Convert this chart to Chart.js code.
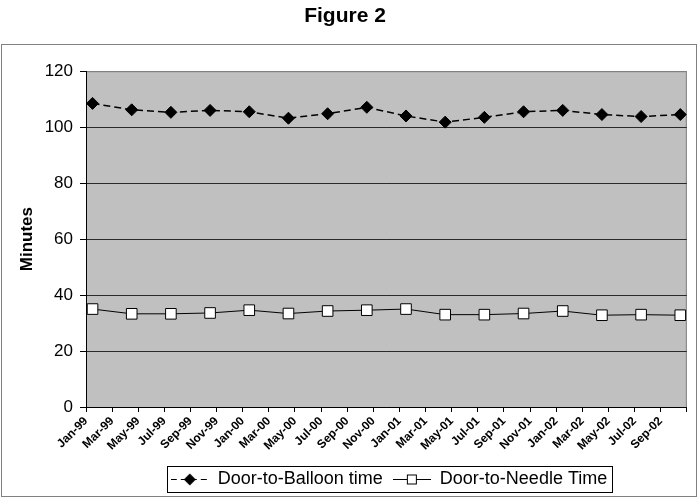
<!DOCTYPE html>
<html>
<head>
<meta charset="utf-8">
<script src="https://cdn.jsdelivr.net/npm/chart.js@4/dist/chart.umd.min.js"></script>
<style>
  html, body { margin: 0; padding: 0; background: #fff; }
  #wrap { width: 699px; height: 498px; }
</style>
</head>
<body>
<div id="wrap"><canvas id="chart"></canvas></div>
<script>
// axis labels, every second month
const tickLabels = ['Jan-99', 'Mar-99', 'May-99', 'Jul-99', 'Sep-99', 'Nov-99',
  'Jan-00', 'Mar-00', 'May-00', 'Jul-00', 'Sep-00', 'Nov-00',
  'Jan-01', 'Mar-01', 'May-01', 'Jul-01', 'Sep-01', 'Nov-01',
  'Jan-02', 'Mar-02', 'May-02', 'Jul-02', 'Sep-02'];

// quarterly measurements
const quarters = ['Jan-99', 'Apr-99', 'Jul-99', 'Oct-99',
  'Jan-00', 'Apr-00', 'Jul-00', 'Oct-00',
  'Jan-01', 'Apr-01', 'Jul-01', 'Oct-01',
  'Jan-02', 'Apr-02', 'Jul-02', 'Oct-02'];

const balloonTime = [108.5, 106.2, 105.3, 106, 105.5, 103.2, 104.8, 107.1,
  104, 101.8, 103.5, 105.5, 106, 104.5, 103.8, 104.5];
const needleTime = [35, 33.3, 33.3, 33.6, 34.6, 33.4, 34.3, 34.6,
  35, 33, 33, 33.4, 34.3, 32.8, 33, 32.8];

const FONT = "'Liberation Sans', Arial, sans-serif";
const MONTHS = ['Jan', 'Feb', 'Mar', 'Apr', 'May', 'Jun', 'Jul', 'Aug', 'Sep', 'Oct', 'Nov', 'Dec'];

// month index from Jan-99, point sits in the middle of its month
function monthPos(s) {
  const m = MONTHS.indexOf(s.slice(0, 3));
  const y = parseInt(s.slice(4), 10);
  return (y < 50 ? y + 100 : y) * 12 - 99 * 12 + m + 0.5;
}

function series(values) {
  return values.map((v, i) => ({ x: monthPos(quarters[i]), y: v }));
}

// little legend glyphs: line + marker
function legendGlyph(dashed, filled) {
  const c = document.createElement('canvas');
  c.width = 38; c.height = 14;
  const g = c.getContext('2d');
  g.strokeStyle = '#000';
  g.lineWidth = 1;
  if (dashed) g.setLineDash([6, 4]);
  g.beginPath(); g.moveTo(0, 7.5); g.lineTo(38, 7.5); g.stroke();
  g.setLineDash([]);
  if (filled) {
    g.fillStyle = '#000';
    g.beginPath();
    g.moveTo(19, 1.5); g.lineTo(25, 7.5); g.lineTo(19, 13.5); g.lineTo(13, 7.5);
    g.closePath(); g.fill();
  } else {
    g.fillStyle = '#fff';
    g.fillRect(14.5, 3, 9, 9);
    g.strokeRect(14.5, 3, 9, 9);
  }
  return c;
}

const plotBackground = {
  id: 'plotBackground',
  afterLayout(chart) {
    // legend sits a little right of centre in the original
    chart.legend.left += 44;
    chart.legend.right += 44;
  },
  beforeDraw(chart) {
    const { ctx, chartArea: a } = chart;
    ctx.save();
    ctx.fillStyle = '#c0c0c0';
    ctx.fillRect(a.left, a.top, a.right - a.left, a.bottom - a.top);
    ctx.strokeStyle = '#808080';
    ctx.lineWidth = 1;
    ctx.strokeRect(a.left + 0.5, a.top + 0.5, a.right - a.left - 1, a.bottom - a.top);
    ctx.restore();
  },
  afterDraw(chart) {
    const ctx = chart.ctx;
    ctx.save();
    ctx.strokeStyle = '#808080';
    ctx.lineWidth = 1;
    // outer chart frame
    ctx.strokeRect(1.5, 44.5, 695, 452);
    // legend frame
    const hb = chart.legend.legendHitBoxes;
    if (hb && hb.length) {
      const l = Math.min(...hb.map(h => h.left)) - 4;
      const r = Math.max(...hb.map(h => h.left + h.width)) + 5;
      const t = Math.min(...hb.map(h => h.top)) - 4;
      const b = Math.max(...hb.map(h => h.top + h.height)) + 4;
      ctx.strokeStyle = '#000';
      ctx.strokeRect(Math.round(l) + 0.5, Math.round(t) + 0.5, Math.round(r - l), Math.round(b - t));
    }
    ctx.restore();
  }
};

const glyphs = [legendGlyph(true, true), legendGlyph(false, false)];

new Chart(document.getElementById('chart'), {
  type: 'line',
  data: {
    datasets: [
      {
        label: 'Door-to-Balloon time',
        data: series(balloonTime),
        borderColor: '#000',
        borderWidth: 1.5,
        borderDash: [7, 4],
        pointStyle: 'rectRot',
        pointRadius: 6,
        pointBackgroundColor: '#000',
        pointBorderColor: '#000',
        pointBorderWidth: 1
      },
      {
        label: 'Door-to-Needle Time',
        data: series(needleTime),
        borderColor: '#000',
        borderWidth: 1,
        pointStyle: 'rect',
        pointRadius: 7.5,
        pointBackgroundColor: '#fff',
        pointBorderColor: '#000',
        pointBorderWidth: 1
      }
    ]
  },
  options: {
    responsive: true,
    maintainAspectRatio: false,
    animation: false,
    layout: { padding: { left: 0, right: 9, top: 0, bottom: 0 } },
    scales: {
      x: {
        type: 'linear',
        min: 0,
        max: tickLabels.length * 2,
        afterFit(s) { s.height = 53; },
        afterBuildTicks(s) {
          s.ticks = [];
          for (let v = 0; v <= tickLabels.length * 2; v += 2) s.ticks.push({ value: v });
        },
        ticks: {
          autoSkip: false,
          minRotation: 45,
          maxRotation: 45,
          padding: 2,
          color: '#000',
          font: { family: FONT, size: 12, weight: 'bold' },
          callback: (v) => tickLabels[v / 2] || ''
        },
        grid: { display: true, drawOnChartArea: false, drawTicks: true, tickLength: 5, color: '#000' },
        border: { display: true, color: '#000', width: 1 }
      },
      y: {
        min: 0,
        max: 120,
        afterFit(s) { s.width = 86; },
        ticks: {
          stepSize: 20,
          padding: 7,
          color: '#000',
          font: { family: FONT, size: 17 }
        },
        grid: {
          color: (c) => (c.tick && c.tick.value === 120 ? '#808080' : '#2a2a2a'),
          tickColor: '#000',
          tickLength: 6,
          lineWidth: 1
        },
        border: { display: true, color: '#000', width: 1 },
        title: {
          display: true,
          text: 'Minutes',
          color: '#000',
          padding: { top: 17, bottom: 0 },
          font: { family: FONT, size: 17, weight: 'bold' }
        }
      }
    },
    plugins: {
      title: {
        display: true,
        text: 'Figure 2',
        color: '#000',
        padding: { top: 4, bottom: 42 },
        font: { family: FONT, size: 21, weight: 'bold' }
      },
      legend: {
        position: 'bottom',
        labels: {
          color: '#000',
          usePointStyle: true,
          pointStyleWidth: 38,
          padding: 10,
          font: { family: FONT, size: 18 },
          generateLabels: (chart) => chart.data.datasets.map((d, i) => ({
            text: d.label,
            pointStyle: glyphs[i],
            fillStyle: '#000',
            strokeStyle: '#000',
            lineWidth: 0,
            hidden: false,
            datasetIndex: i,
            fontColor: '#000'
          }))
        }
      },
      tooltip: { enabled: false }
    }
  },
  plugins: [plotBackground]
});
</script>
</body>
</html>
